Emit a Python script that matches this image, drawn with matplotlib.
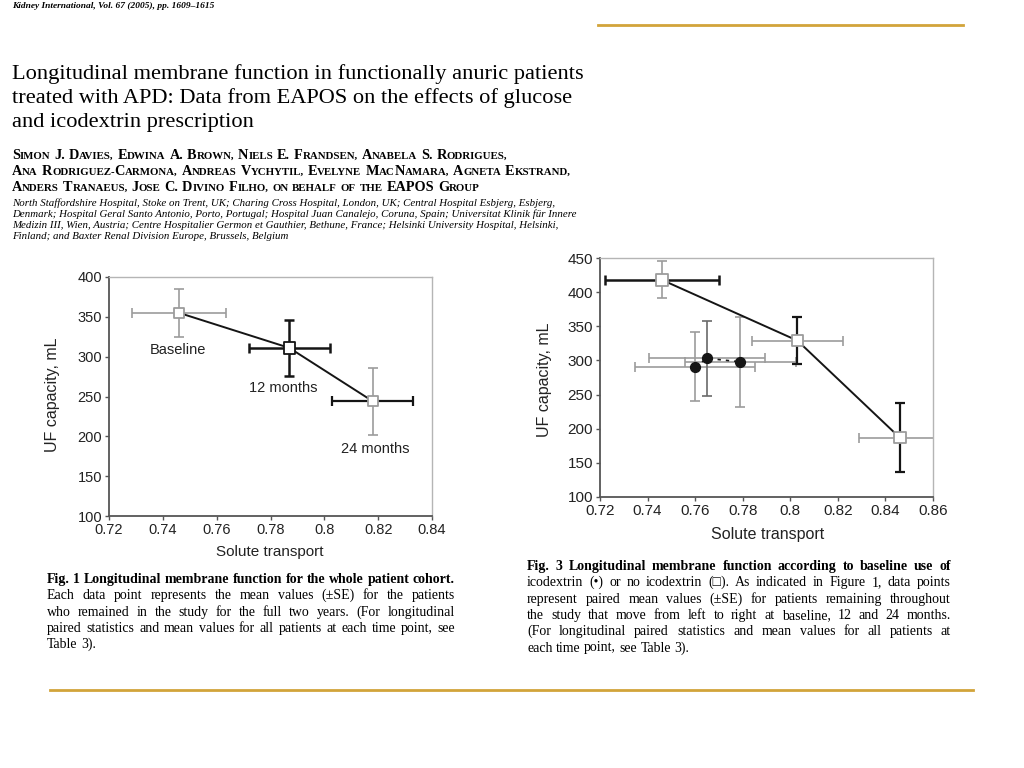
import matplotlib

matplotlib.use("Agg")
import matplotlib.pyplot as plt
from matplotlib.ticker import FuncFormatter

# ---- values ----
fig1_labels = ["Baseline", "12 months", "24 months"]
fig1_x = [0.746, 0.787, 0.818]
fig1_y = [355, 311, 244]
fig1_xerr = [0.0175, 0.015, 0.015]
fig1_yerr = [30, 35, 42]

fig3_noico_x = [0.746, 0.803, 0.846]
fig3_noico_y = [418, 329, 187]
fig3_noico_xerr = [0.024, 0.019, 0.017]
fig3_noico_yerr = [27, 34, 51]

fig3_ico_x = [0.760, 0.765, 0.779]
fig3_ico_y = [291, 303, 298]
fig3_ico_xerr = [0.0253, 0.0245, 0.0233]
fig3_ico_yerr = [50, 55, 66]

fig1_xticks = [0.72, 0.74, 0.76, 0.78, 0.80, 0.82, 0.84]
fig1_yticks = [100, 150, 200, 250, 300, 350, 400]
fig3_xticks = [0.72, 0.74, 0.76, 0.78, 0.80, 0.82, 0.84, 0.86]
fig3_yticks = [100, 150, 200, 250, 300, 350, 400, 450]

journal = "Kidney International, Vol. 67 (2005), pp. 1609\u20131615"
title_lines = [
    "Longitudinal membrane function in functionally anuric patients",
    "treated with APD: Data from EAPOS on the effects of glucose",
    "and icodextrin prescription",
]
author_lines = [
    "Simon J. Davies, Edwina A. Brown, Niels E. Frandsen, Anabela S. Rodrigues,",
    "Ana Rodriguez-Carmona, Andreas Vychytil, Evelyne MacNamara, Agneta Ekstrand,",
    "Anders Tranaeus, Jose C. Divino Filho, on behalf of the EAPOS Group",
]
affil_lines = [
    "North Staffordshire Hospital, Stoke on Trent, UK; Charing Cross Hospital, London, UK; Central Hospital Esbjerg, Esbjerg,",
    "Denmark; Hospital Geral Santo Antonio, Porto, Portugal; Hospital Juan Canalejo, Coruna, Spain; Universitat Klinik f\u00fcr Innere",
    "Medizin III, Wien, Austria; Centre Hospitalier Germon et Gauthier, Bethune, France; Helsinki University Hospital, Helsinki,",
    "Finland; and Baxter Renal Division Europe, Brussels, Belgium",
]
cap1_lines = [
    "Fig. 1 Longitudinal membrane function for the whole patient cohort.",
    "Each data point represents the mean values (\u00b1SE) for the patients",
    "who remained in the study for the full two years. (For longitudinal",
    "paired statistics and mean values for all patients at each time point, see",
    "Table 3).",
]
cap3_lines = [
    "Fig. 3 Longitudinal membrane function according to baseline use of",
    "icodextrin (\u2022) or no icodextrin (\u25a1). As indicated in Figure 1, data points",
    "represent paired mean values (\u00b1SE) for patients remaining throughout",
    "the study that move from left to right at baseline, 12 and 24 months.",
    "(For longitudinal paired statistics and mean values for all patients at",
    "each time point, see Table 3).",
]

W, H = 1024, 768
SERIF = ["Liberation Serif", "DejaVu Serif"]
SANS = ["Liberation Sans", "DejaVu Sans"]
GOLD = "#d2a43a"
DARK = "#151515"
LIGHT = "#9c9c9c"
INK = "#222222"

plt.rcParams["font.family"] = SANS
fig = plt.figure(figsize=(W / 100, H / 100), dpi=100)
fig.patch.set_facecolor("white")
renderer = fig.canvas.get_renderer()


def put(x, y, s, **kw):
    # x, y in pixels from top-left, y is the baseline
    return fig.text(x / W, 1 - y / H, s, va="baseline", **kw)


def width(t):
    return t.get_window_extent(renderer).width


def fit_size(s, target, **kw):
    t = put(0, 0, s, fontsize=10, **kw)
    size = 10 * target / width(t)
    t.remove()
    return size


def justify(x0, x1, y, line, last=False, **kw):
    words = line.split()
    objs = [put(x0, y, w, **kw) for w in words]
    ws = [width(o) for o in objs]
    if last or len(words) < 2:
        gap = kw["fontsize"] * 0.25 * 100 / 72
    else:
        gap = (x1 - x0 - sum(ws)) / (len(words) - 1)
    cur = x0
    for o, w in zip(objs, ws):
        o.set_x(cur / W)
        cur += w + gap


def small_caps(x, y, line, size, ratio=0.76, **kw):
    cur = x
    space = size * 0.27 * 100 / 72
    for word in line.split():
        runs = []
        for ch in word:
            low = ch.islower() if ch.isalpha() else (runs[-1][1] if runs else False)
            if runs and runs[-1][1] == low:
                runs[-1][0] += ch
            else:
                runs.append([ch, low])
        for txt, low in runs:
            t = put(cur, y, txt.upper(), fontsize=size * ratio if low else size, **kw)
            cur += width(t)
        cur += space


# ---- header text ----
put(12, 8, journal, family=SERIF, style="italic", weight="bold",
    fontsize=fit_size(journal, 202, family=SERIF, style="italic", weight="bold"))

ts = fit_size(title_lines[0], 571, family=SERIF)
for i, line in enumerate(title_lines):
    put(12, 79 + 24 * i, line, family=SERIF, fontsize=ts)

for i, line in enumerate(author_lines):
    small_caps(12, 159 + 16 * i, line, 10.3, family=SERIF, weight="bold")

fs = fit_size(affil_lines[1], 563, family=SERIF, style="italic")
for i, line in enumerate(affil_lines):
    put(12, 206 + 11 * i, line, family=SERIF, style="italic", fontsize=fs)

# gold rules
fig.add_artist(plt.Line2D([598 / W, 963 / W], [1 - 25 / H] * 2, color=GOLD, lw=2))
fig.add_artist(plt.Line2D([50 / W, 973 / W], [1 - 690 / H] * 2, color=GOLD, lw=2))

# ---- captions ----
for i, line in enumerate(cap1_lines):
    justify(47, 455, 583 + 16.3 * i, line, last=(i == len(cap1_lines) - 1),
            family=SERIF, fontsize=10, weight="bold" if i == 0 else "normal")
for i, line in enumerate(cap3_lines):
    justify(527, 951, 570 + 16.3 * i, line, last=(i == len(cap3_lines) - 1),
            family=SERIF, fontsize=10, weight="bold" if i == 0 else "normal")


# ---- charts ----
def style_axes(ax, xticks, yticks, labelsize):
    ax.set_xlim(xticks[0], xticks[-1])
    ax.set_ylim(yticks[0], yticks[-1])
    ax.set_xticks(xticks)
    ax.set_yticks(yticks)
    ax.xaxis.set_major_formatter(FuncFormatter(lambda v, p: "{:g}".format(round(v, 2))))
    for side in ["top", "right"]:
        ax.spines[side].set_color("#b5b5b5")
        ax.spines[side].set_linewidth(1.0)
    for side in ["left", "bottom"]:
        ax.spines[side].set_color("#555555")
        ax.spines[side].set_linewidth(1.3)
    ax.tick_params(direction="out", length=3, width=1, colors="#555555",
                   labelcolor=INK, labelsize=labelsize, pad=2)


def bars(ax, x, y, xerr, yerr, xcol, ycol, xlw, ylw):
    for i in range(len(x)):
        ax.errorbar(x[i], y[i], xerr=xerr[i], fmt="none", ecolor=xcol[i],
                    elinewidth=xlw[i], capsize=3.5, capthick=xlw[i], zorder=2)
        ax.errorbar(x[i], y[i], yerr=yerr[i], fmt="none", ecolor=ycol[i],
                    elinewidth=ylw[i], capsize=3.5, capthick=ylw[i], zorder=2)


# Fig. 1
ax1 = fig.add_axes([109 / W, 1 - 516 / H, 323 / W, 239 / H])
style_axes(ax1, fig1_xticks, fig1_yticks, 10.5)
bars(ax1, fig1_x, fig1_y, fig1_xerr, fig1_yerr,
     [LIGHT, DARK, DARK], [LIGHT, DARK, LIGHT], [1.2, 1.8, 1.6], [1.2, 1.8, 1.2])
ax1.plot(fig1_x, fig1_y, color=DARK, lw=1.4, zorder=3)
ax1.scatter(fig1_x, fig1_y, marker="s", s=[50, 70, 55], facecolor="white",
            edgecolors=[LIGHT, DARK, LIGHT], linewidths=1.3, zorder=4)
for lab, x, y, off in zip(fig1_labels, fig1_x, fig1_y, [(-1, -37), (-6, -40), (2, -48)]):
    ax1.annotate(lab, (x, y), xytext=off, textcoords="offset pixels",
                 ha="center", va="center", fontsize=10.5, color=INK)
fig.text(270 / W, 1 - 552 / H, "Solute transport", ha="center", va="center",
         fontsize=11, color=INK)
fig.text(53 / W, 1 - 395 / H, "UF capacity, mL", ha="center", va="center",
         rotation=90, fontsize=11.5, color=INK)

# Fig. 3
ax3 = fig.add_axes([600 / W, 1 - 497 / H, 333 / W, 239 / H])
style_axes(ax3, fig3_xticks, fig3_yticks, 11)
bars(ax3, fig3_ico_x, fig3_ico_y, fig3_ico_xerr, fig3_ico_yerr,
     [LIGHT, LIGHT, LIGHT], [LIGHT, "#6a6a6a", LIGHT], [1.2, 1.2, 1.2], [1.2, 1.2, 1.2])
bars(ax3, fig3_noico_x, fig3_noico_y, fig3_noico_xerr, fig3_noico_yerr,
     [DARK, LIGHT, LIGHT], [LIGHT, DARK, DARK], [1.8, 1.2, 1.2], [1.2, 1.6, 1.6])
ax3.plot(fig3_noico_x, fig3_noico_y, color=DARK, lw=1.4, zorder=3)
ax3.plot(fig3_ico_x, fig3_ico_y, color=DARK, lw=1.2, ls=(0, (2, 3)), zorder=3)
ax3.scatter(fig3_noico_x, fig3_noico_y, marker="s", s=70, facecolor="white",
            edgecolors=[LIGHT, LIGHT, LIGHT], linewidths=1.3, zorder=4)
ax3.scatter(fig3_ico_x, fig3_ico_y, marker="o", s=50, color=DARK, zorder=4)
fig.text(768 / W, 1 - 535 / H, "Solute transport", ha="center", va="center",
         fontsize=11.5, color=INK)
fig.text(545 / W, 1 - 380 / H, "UF capacity, mL", ha="center", va="center",
         rotation=90, fontsize=11.5, color=INK)

fig.savefig("out.png", dpi=100, facecolor="white")
